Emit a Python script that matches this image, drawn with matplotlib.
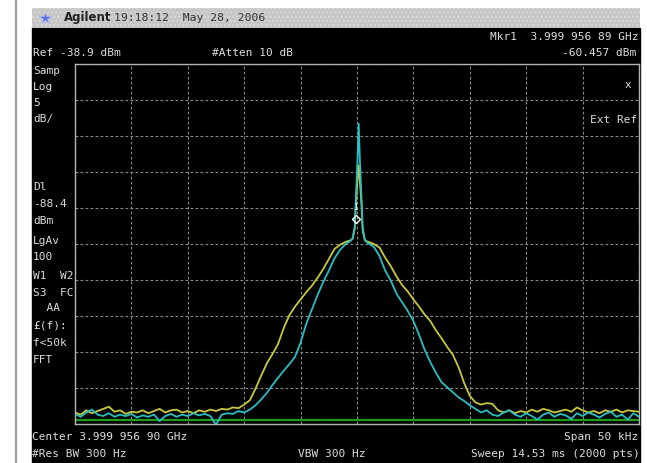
import numpy as np
import matplotlib as mpl
import matplotlib.pyplot as plt
from matplotlib.patches import Rectangle

mpl.use("Agg")

# screen settings
ref_level = -38.9      # dBm, top of the graticule
db_per_div = 5.0
span_khz = 50.0
display_line = -88.4   # dBm
marker_khz = -0.05
marker_dbm = -60.457

# sweep points either side of the carrier (kHz offset from centre)
left_khz = np.linspace(-25.0, -1.0, 49)
right_khz = np.linspace(1.0, 25.0, 49)
spike_khz = [-0.6, -0.4, -0.2, -0.1, 0.05, 0.15, 0.25, 0.4, 0.5, 0.7]

# trace 1 (yellow)
yellow_left = [
    -87.3, -87.6, -87.0, -87.4, -87.1, -86.8, -86.5, -87.2, -87.0, -87.5,
    -87.2, -87.3, -87.0, -87.4, -87.1, -86.8, -87.3, -87.0, -86.9, -87.3,
    -87.1, -87.4, -87.0, -87.2, -86.9, -87.1, -86.8, -86.9, -86.6, -86.7,
    -86.2, -85.6, -84.0, -82.2, -80.5, -79.2, -77.8, -75.6, -73.8, -72.6,
    -71.6, -70.6, -69.7, -68.6, -67.4, -66.0, -64.6, -64.0, -63.6,
]
yellow_spike = [-63.4, -63.2, -61.8, -58.5, -55.0, -53.0, -55.0, -58.5, -62.0, -63.4]
yellow_right = [
    -63.6, -63.9, -64.4, -65.8, -67.0, -68.4, -69.6, -70.5, -71.6, -72.6,
    -73.7, -74.6, -75.9, -77.0, -78.2, -79.3, -81.0, -83.2, -85.0, -85.9,
    -86.2, -86.0, -86.1, -87.0, -87.3, -87.0, -87.4, -87.1, -87.3, -86.9,
    -87.2, -86.8, -87.0, -87.3, -87.1, -86.9, -87.2, -86.6, -87.0, -87.3,
    -87.1, -87.4, -87.0, -87.2, -86.9, -87.3, -87.0, -87.1, -87.2,
]

# trace 2 (cyan)
cyan_left = [
    -87.5, -87.9, -87.3, -86.9, -87.6, -87.8, -87.4, -87.9, -87.6, -87.8,
    -87.5, -88.0, -87.7, -87.9, -87.6, -88.5, -87.8, -87.5, -87.9, -87.6,
    -87.8, -87.4, -87.7, -87.5, -87.8, -89.0, -87.6, -87.4, -87.5, -87.1,
    -87.3, -86.9, -86.3, -85.5, -84.6, -83.5, -82.5, -81.5, -80.6, -79.6,
    -77.6, -75.0, -73.0, -71.0, -69.2, -67.6, -65.9, -64.7, -63.9,
]
cyan_spike = [-63.5, -63.2, -61.5, -57.5, -52.0, -47.2, -52.0, -57.5, -61.5, -63.4]
cyan_right = [
    -63.8, -64.3, -65.6, -67.6, -69.0, -70.8, -72.0, -73.2, -74.6, -76.5,
    -78.6, -80.3, -81.8, -83.1, -83.8, -84.5, -85.2, -85.7, -86.3, -86.8,
    -87.3, -87.0, -87.6, -87.8, -87.3, -87.0, -87.6, -87.9, -87.4, -87.8,
    -88.3, -87.6, -87.3, -87.9, -87.5, -87.7, -88.2, -87.4, -87.8, -87.3,
    -87.6, -88.0, -87.5, -87.2, -87.9, -87.6, -88.3, -87.4, -87.9,
]

left_labels = ["Samp", "Log", "5", "dB/"]
left_labels_y = [71, 87, 103, 119]
side_labels = ["Dl", "-88.4", "dBm", "LgAv", "100", "W1  W2", "S3  FC",
               "  AA", "£(f):", "f<50k", "FFT"]
side_labels_y = [187, 204, 221, 241, 257, 276, 293, 308, 325, 343, 360]

W, H = 647, 463
SCREEN_FG = "#dcdcdc"
MONO = "DejaVu Sans Mono"

fig = plt.figure(figsize=(W / 100, H / 100), dpi=100)
fig.patch.set_facecolor("white")

# pixel-space layer for the bezel, banner and annotation text
bg = fig.add_axes([0, 0, 1, 1])
bg.set_xlim(0, W)
bg.set_ylim(H, 0)
bg.axis("off")
bg.plot([16, 16], [0, H], color="#9c9c9c", lw=1.6)
bg.add_patch(Rectangle((32, 28), 608, H - 28, color="black"))
bg.add_patch(Rectangle((32, 8), 608, 20, facecolor="#c6c6c6",
                       edgecolor="#d8d8d8", hatch="....", lw=0))
bg.plot([45], [17.5], marker="*", ms=9, color="#5c6fe0", mec="#aab4ff", mew=0.5)
bg.text(64, 18, "Agilent", fontsize=8.5, fontweight="bold", color="#202020",
        va="center", family="DejaVu Sans")
bg.text(114, 18, "19:18:12  May 28, 2006", fontsize=8.2, color="#303030",
        va="center", family=MONO)

txt = dict(fontsize=8.0, color=SCREEN_FG, family=MONO, va="center")
bg.text(33, 53, "Ref -38.9 dBm", **txt)
bg.text(212, 53, "#Atten 10 dB", **txt)
bg.text(638, 37, "Mkr1  3.999 956 89 GHz", ha="right", **txt)
bg.text(636, 53, "-60.457 dBm", ha="right", **txt)
for s, y in zip(left_labels, left_labels_y):
    bg.text(33, y, s, **txt)
for s, y in zip(side_labels, side_labels_y):
    bg.text(33, y, s, **txt)
bg.text(628, 85, "x", ha="center", **txt)
bg.text(637, 120, "Ext Ref", ha="right", **txt)
bg.text(32, 437, "Center 3.999 956 90 GHz", **txt)
bg.text(638, 437, "Span 50 kHz", ha="right", **txt)
bg.text(32, 454, "#Res BW 300 Hz", **txt)
bg.text(298, 454, "VBW 300 Hz", **txt)
bg.text(640, 454, "Sweep 14.53 ms (2000 pts)", ha="right", **txt)

# graticule: 10 x 10 divisions
ax = fig.add_axes([75 / W, 1 - 424 / H, 564 / W, 360 / H])
ax.set_facecolor("none")
bottom = ref_level - 10 * db_per_div
ax.set_xlim(-span_khz / 2, span_khz / 2)
ax.set_ylim(bottom, ref_level)
ax.set_xticks(np.linspace(-span_khz / 2, span_khz / 2, 11))
ax.set_yticks(np.linspace(bottom, ref_level, 11))
ax.tick_params(length=0, labelbottom=False, labelleft=False)
ax.grid(True, color="#8a8a8a", lw=0.8, ls=(0, (2.5, 2)))
for sp in ax.spines.values():
    sp.set_color("#b4b4b4")
    sp.set_linewidth(1.0)

ax.axhline(display_line, color="#1f9c1f", lw=1.6)

freq = np.concatenate([left_khz, spike_khz, right_khz])
yellow = np.concatenate([yellow_left, yellow_spike, yellow_right])
cyan = np.concatenate([cyan_left, cyan_spike, cyan_right])
ax.plot(freq, yellow, color="#c9c83a", lw=1.3, solid_joinstyle="round")
ax.plot(freq, cyan, color="#28bfc4", lw=1.3, solid_joinstyle="round")

ax.plot([marker_khz], [marker_dbm], marker="D", ms=4.5, mfc="none",
        mec="white", mew=1.0)
ax.text(marker_khz - 0.1, marker_dbm + 1.6, "1", fontsize=5.5, color="white",
        ha="center", va="center", family=MONO)

fig.savefig("out.png", dpi=100, facecolor="white")
